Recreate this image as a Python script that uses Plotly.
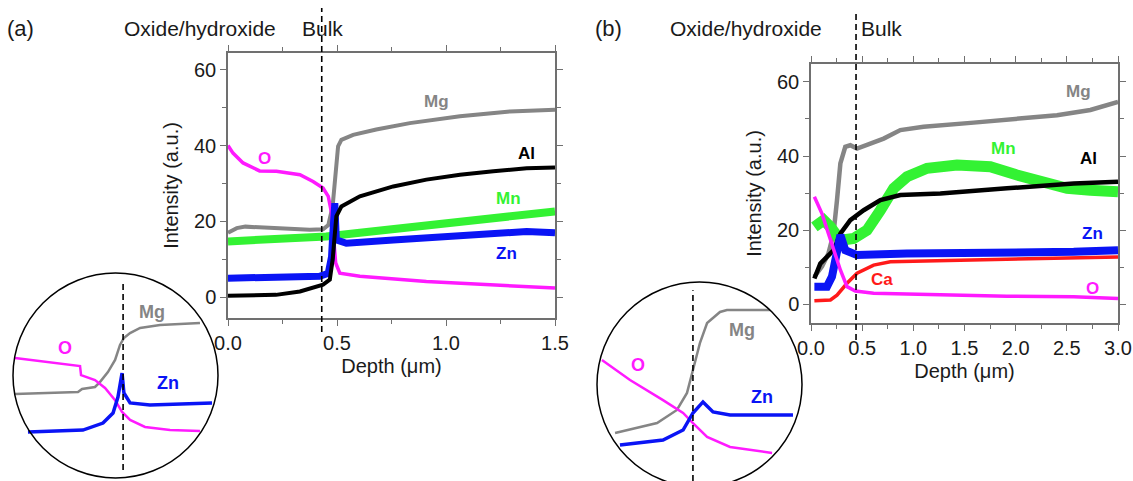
import plotly.graph_objects as go

# ---------------- Panel (a) data: depth (um) vs intensity (a.u.) ----------------
a_mg_x = [0.0, 0.04, 0.08, 0.22, 0.375, 0.436, 0.46, 0.48, 0.494, 0.505, 0.52, 0.574, 0.68, 0.834, 1.064, 1.293, 1.5]
a_mg_y = [17.0, 18.2, 18.6, 18.2, 17.8, 17.9, 19.0, 24.0, 32.7, 39.8, 41.5, 42.8, 44.2, 45.9, 47.7, 49.0, 49.4]

a_o_x = [0.0, 0.023, 0.069, 0.145, 0.222, 0.33, 0.39, 0.436, 0.46, 0.475, 0.485, 0.494, 0.513, 0.605, 0.91, 1.217, 1.5]
a_o_y = [40.0, 38.0, 35.4, 33.3, 33.2, 32.3, 30.5, 28.8, 26.6, 22.2, 15.1, 9.0, 6.3, 5.5, 4.1, 3.3, 2.4]

a_al_x = [0.0, 0.22, 0.33, 0.39, 0.436, 0.467, 0.48, 0.497, 0.52, 0.605, 0.758, 0.91, 1.064, 1.217, 1.37, 1.5]
a_al_y = [0.4, 0.6, 1.5, 2.4, 3.3, 4.6, 9.9, 21.3, 23.9, 26.6, 29.2, 31.0, 32.3, 33.2, 34.0, 34.2]

a_mn_x = [0.0, 0.145, 0.3, 0.45, 0.605, 0.758, 0.91, 1.064, 1.217, 1.37, 1.5]
a_mn_y = [14.7, 15.1, 15.3, 16.0, 17.0, 18.0, 19.1, 20.0, 20.8, 21.7, 22.6]

a_zn_x = [0.0, 0.145, 0.3, 0.42, 0.46, 0.475, 0.48, 0.49, 0.497, 0.543, 0.758, 1.064, 1.37, 1.5]
a_zn_y = [5.0, 5.3, 5.3, 5.5, 6.3, 10.7, 16.0, 24.8, 15.1, 14.2, 15.1, 16.4, 17.3, 17.0]

# ---------------- Panel (b) data ----------------
b_mg_x = [0.033, 0.107, 0.17, 0.22, 0.254, 0.287, 0.335, 0.384, 0.45, 0.547, 0.71, 0.873, 1.1, 1.59, 2.078, 2.404, 2.73, 3.0]
b_mg_y = [7.5, 10.2, 13.7, 19.1, 28.1, 38.0, 42.5, 42.9, 42.0, 42.9, 44.7, 47.0, 47.9, 49.0, 50.1, 51.0, 52.4, 54.6]

b_al_x = [0.033, 0.091, 0.156, 0.22, 0.287, 0.384, 0.515, 0.678, 0.873, 1.264, 1.915, 2.567, 3.0]
b_al_y = [7.0, 11.0, 12.8, 14.6, 19.1, 22.7, 25.4, 28.1, 29.5, 29.9, 31.3, 32.6, 33.1]

b_mn_x = [0.033, 0.124, 0.19, 0.287, 0.417, 0.547, 0.678, 0.808, 0.938, 1.134, 1.427, 1.752, 2.013, 2.241, 2.502, 2.73, 3.0]
b_mn_y = [20.9, 22.7, 20.9, 17.3, 17.8, 20.0, 25.4, 31.3, 34.4, 36.7, 37.6, 37.1, 34.9, 33.1, 31.3, 30.8, 30.4]

b_zn_x = [0.033, 0.156, 0.205, 0.254, 0.287, 0.335, 0.45, 0.938, 1.915, 2.567, 3.0]
b_zn_y = [4.8, 4.8, 7.5, 15.5, 18.7, 14.6, 13.3, 13.7, 13.7, 14.2, 14.6]

b_ca_x = [0.033, 0.19, 0.254, 0.352, 0.45, 0.612, 0.775, 1.264, 1.915, 2.567, 3.0]
b_ca_y = [1.0, 1.2, 2.5, 5.7, 8.4, 10.6, 11.5, 11.8, 12.0, 12.4, 12.8]

b_o_x = [0.033, 0.107, 0.17, 0.22, 0.287, 0.352, 0.433, 0.612, 1.264, 1.915, 2.567, 3.0]
b_o_y = [29.0, 24.5, 19.1, 14.6, 9.3, 4.8, 3.6, 3.0, 2.5, 2.2, 2.1, 1.6]

# ---------------- Zoom insets (arbitrary 0-100 units) ----------------
ia_mg_x = [1, 31.7, 33.7, 40, 42.4, 46.3, 49.8, 52.2, 54.1, 57.1, 62, 71.7, 91.2]
ia_mg_y = [41, 42, 43.4, 44.4, 46.8, 51.7, 57.6, 64.9, 68.3, 70.7, 73.2, 74.6, 75.6]
ia_o_x = [1, 32.7, 33.2, 40, 44.9, 49.8, 53.2, 57.1, 64.4, 76.6, 91.2]
ia_o_y = [58.5, 54.6, 50.2, 47.8, 43.9, 38, 32.2, 28.3, 24.9, 23.4, 22.9]
ia_zn_x = [7.3, 34.1, 43.9, 48.8, 51.2, 53.2, 54.1, 57.1, 66.8, 97.1]
ia_zn_y = [22.4, 23.4, 26.8, 31.7, 39.5, 51.2, 41.5, 36.6, 35.6, 36.6]

ib_mg_x = [8.8, 29.3, 39, 43.9, 46.8, 50.2, 53.7, 60, 63.4, 84.4]
ib_mg_y = [26.3, 31.2, 37.6, 45.9, 57.1, 70.2, 80, 85.4, 86.3, 86.3]
ib_o_x = [2.4, 16.1, 32.2, 42, 46.8, 53.7, 64.9, 85.4]
ib_o_y = [62, 52.2, 42.4, 36.1, 31.2, 24.4, 19.5, 16.6]
ib_zn_x = [11.2, 32.2, 42, 46.8, 51.7, 56.6, 64.9, 95.6]
ib_zn_y = [20.5, 22.9, 27.8, 36.1, 41.5, 36.6, 35.1, 35.1]

boundary_a = 0.43
boundary_b = 0.44

C_MG = "#858585"
C_AL = "#000000"
C_MN = "#33f233"
C_ZN = "#0a14f5"
C_O = "#ff1aff"
C_CA = "#ff1a1a"

W, H = 1133, 481


def px(x):
    return x / W


def py(y):
    return 1 - y / H


fig = go.Figure()


def line(x, y, color, width, xa, ya):
    fig.add_trace(go.Scatter(x=x, y=y, mode="lines", line=dict(color=color, width=width),
                             xaxis=xa, yaxis=ya, showlegend=False, hoverinfo="skip", cliponaxis=True))


# panel a
line(a_mg_x, a_mg_y, C_MG, 4, "x", "y")
line(a_o_x, a_o_y, C_O, 3.5, "x", "y")
line(a_mn_x, a_mn_y, C_MN, 8, "x", "y")
line(a_zn_x, a_zn_y, C_ZN, 7, "x", "y")
line(a_al_x, a_al_y, C_AL, 4, "x", "y")

# panel b
line(b_mg_x, b_mg_y, C_MG, 4.5, "x2", "y2")
line(b_mn_x, b_mn_y, C_MN, 11, "x2", "y2")
line(b_al_x, b_al_y, C_AL, 4.5, "x2", "y2")
line(b_ca_x, b_ca_y, C_CA, 3.5, "x2", "y2")
line(b_zn_x, b_zn_y, C_ZN, 8, "x2", "y2")
line(b_o_x, b_o_y, C_O, 3.5, "x2", "y2")

# insets
line(ia_mg_x, ia_mg_y, C_MG, 2.5, "x3", "y3")
line(ia_o_x, ia_o_y, C_O, 2.5, "x3", "y3")
line(ia_zn_x, ia_zn_y, C_ZN, 3.5, "x3", "y3")
line(ib_mg_x, ib_mg_y, C_MG, 2.5, "x4", "y4")
line(ib_o_x, ib_o_y, C_O, 2.5, "x4", "y4")
line(ib_zn_x, ib_zn_y, C_ZN, 3.5, "x4", "y4")

FONT = "Liberation Sans, Arial, sans-serif"
AX = "#707070"
TXT = "#1a1a1a"

main_x = dict(showline=True, linecolor=AX, linewidth=1.5, ticks="outside", ticklen=6, tickcolor=AX,
              tickwidth=1.2, showgrid=False, zeroline=False, dtick=0.5, tick0=0, tickformat=".1f",
              mirror="allticks", automargin=False,
              tickfont=dict(size=20, color=TXT, family=FONT),
              minor=dict(ticks="outside", ticklen=4, tickcolor=AX, dtick=0.25, tick0=0, showgrid=False),
              title=dict(text="Depth (\u03bcm)", font=dict(size=20, color=TXT, family=FONT), standoff=6))
main_y = dict(showline=True, linecolor=AX, linewidth=1.5, ticks="outside", ticklen=6, tickcolor=AX,
              tickwidth=1.2, showgrid=False, zeroline=False, dtick=20, tick0=0,
              mirror="allticks", automargin=False,
              tickfont=dict(size=20, color=TXT, family=FONT),
              minor=dict(ticks="outside", ticklen=4, tickcolor=AX, dtick=10, tick0=0, showgrid=False),
              title=dict(text="Intensity (a.u.)", font=dict(size=20, color=TXT, family=FONT), standoff=10))

xa_dom = [px(228), px(555)]
ya_dom = [py(318), py(53)]
xb_dom = [px(811), px(1118)]
yb_dom = [py(323), py(64)]
ra_x, ra_y = [0, 1.5], [-5.5, 64.4]
rb_x, rb_y = [0, 3.0], [-5.0, 64.8]

inset_hidden = dict(visible=False, showgrid=False, zeroline=False, fixedrange=True, automargin=False)

fig.update_layout(
    width=W, height=H, margin=dict(l=0, r=0, t=0, b=0, autoexpand=False),
    paper_bgcolor="white", plot_bgcolor="rgba(0,0,0,0)",
    font=dict(family=FONT, color=TXT),
    xaxis=dict(main_x, domain=xa_dom, range=ra_x, anchor="y"),
    yaxis=dict(main_y, domain=ya_dom, range=ra_y, anchor="x"),
    xaxis2=dict(main_x, domain=xb_dom, range=rb_x, anchor="y2"),
    yaxis2=dict(main_y, domain=yb_dom, range=rb_y, anchor="x2"),
    xaxis3=dict(inset_hidden, domain=[px(13), px(218)], range=[0, 100], anchor="y3"),
    yaxis3=dict(inset_hidden, domain=[py(478), py(273)], range=[0, 100], anchor="x3"),
    xaxis4=dict(inset_hidden, domain=[px(597), px(802)], range=[0, 100], anchor="y4"),
    yaxis4=dict(inset_hidden, domain=[0, py(282)], range=[(487 - 481) / 2.05, 100], anchor="x4"),
)

shapes = []
dash = dict(color="black", width=1.6, dash="6px,4px")
shapes.append(dict(type="line", xref="x", yref="paper", x0=boundary_a, x1=boundary_a,
                   y0=py(332), y1=py(8), line=dash, layer="above"))
shapes.append(dict(type="line", xref="x2", yref="paper", x0=boundary_b, x1=boundary_b,
                   y0=py(340), y1=py(10), line=dash, layer="above"))
# inset circles
shapes.append(dict(type="circle", xref="paper", yref="paper", x0=px(13), x1=px(218),
                   y0=py(478), y1=py(273), line=dict(color="black", width=1.5)))
shapes.append(dict(type="circle", xref="paper", yref="paper", x0=px(597), x1=px(802),
                   y0=py(487), y1=py(282), line=dict(color="black", width=1.5)))
# inset dashed boundaries
shapes.append(dict(type="line", xref="x3", yref="y3", x0=53.7, x1=53.7, y0=3.9, y1=95,
                   line=dash, layer="above"))
shapes.append(dict(type="line", xref="x4", yref="y4", x0=46.8, x1=46.8, y0=2.9, y1=96,
                   line=dash, layer="above"))
fig.update_layout(shapes=shapes)

ann = []


def label(text, x, y, color, xref, yref, size=17):
    ann.append(dict(text="<b>%s</b>" % text, x=x, y=y, xref=xref, yref=yref, showarrow=False,
                    font=dict(size=size, color=color, family=FONT), xanchor="center", yanchor="middle"))


label("Mg", 0.957, 51.6, C_MG, "x", "y")
label("Al", 1.37, 38.0, C_AL, "x", "y")
label("Mn", 1.286, 26.1, C_MN, "x", "y")
label("Zn", 1.278, 11.6, C_ZN, "x", "y")
label("O", 0.168, 36.7, C_O, "x", "y")

label("Mg", 2.616, 57.3, C_MG, "x2", "y2")
label("Mn", 1.88, 42.0, C_MN, "x2", "y2")
label("Al", 2.71, 39.4, C_AL, "x2", "y2")
label("Zn", 2.746, 19.1, C_ZN, "x2", "y2")
label("Ca", 0.694, 6.6, C_CA, "x2", "y2")
label("O", 2.746, 4.3, C_O, "x2", "y2")

label("Mg", 67.8, 81, C_MG, "x3", "y3", 18)
label("O", 25.4, 63.4, C_O, "x3", "y3", 18)
label("Zn", 75.6, 46.3, C_ZN, "x3", "y3", 18)
label("Mg", 70.7, 76.6, C_MG, "x4", "y4", 18)
label("O", 20.0, 59.5, C_O, "x4", "y4", 18)
label("Zn", 80.5, 43.9, C_ZN, "x4", "y4", 18)


def header(text, xpx, ypx, size=21):
    ann.append(dict(text=text, x=px(xpx), y=py(ypx), xref="paper", yref="paper", showarrow=False,
                    font=dict(size=size, color=TXT, family=FONT), xanchor="center", yanchor="middle"))


header("(a)", 21, 29, 22)
header("Oxide/hydroxide", 200, 29)
header("Bulk", 322, 29)
header("(b)", 608, 29, 22)
header("Oxide/hydroxide", 746, 29)
header("Bulk", 881, 29)

fig.update_layout(annotations=ann)
fig.write_html("out.html", config={"displayModeBar": False},
               post_script="document.body.style.margin='0';document.body.style.overflow='hidden';")
